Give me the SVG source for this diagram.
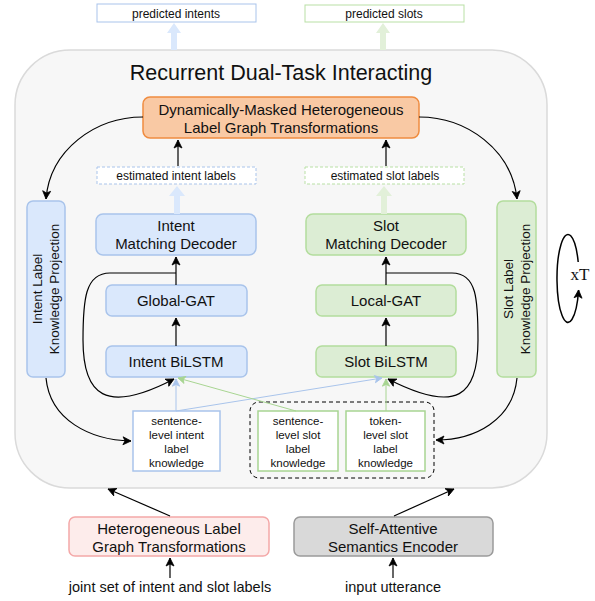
<svg xmlns="http://www.w3.org/2000/svg" width="595" height="601" viewBox="0 0 595 601">
<defs>
<marker id="ah" viewBox="0 0 10 10" refX="9" refY="5" markerWidth="10" markerHeight="10" markerUnits="userSpaceOnUse" orient="auto">
<path d="M1,1 L9,5 L1,9 L3,5 Z" fill="#000" stroke="#000" stroke-width="0.8" stroke-linejoin="round"/>
</marker>
<marker id="ahb" viewBox="0 0 10 10" refX="9" refY="5" markerWidth="9" markerHeight="9" markerUnits="userSpaceOnUse" orient="auto">
<path d="M1,1 L9,5 L1,9 L3,5 Z" fill="#a9c4eb" stroke="#a9c4eb"/>
</marker>
<marker id="ahg" viewBox="0 0 10 10" refX="9" refY="5" markerWidth="9" markerHeight="9" markerUnits="userSpaceOnUse" orient="auto">
<path d="M1,1 L9,5 L1,9 L3,5 Z" fill="#a8d592" stroke="#a8d592"/>
</marker>
<style>
text{font-family:"Liberation Sans",Arial,sans-serif;fill:#111;text-anchor:middle}
.lg{font-size:15px}
.vt{font-size:13.5px}
.sm{font-size:12px}
.kn{font-size:11.5px}
.blue{fill:#dae8fc;stroke:#a9c4eb;stroke-width:1.5}
.green{fill:#dcedd4;stroke:#b3dd9d;stroke-width:1.5}
.conn{fill:none;stroke:#000;stroke-width:1.2}
</style>
</defs>

<!-- container -->
<g id="container">
<rect x="15" y="50" width="532" height="438" rx="55" ry="55" fill="#f7f7f7" stroke="#dadada" stroke-width="1.5"/>
<text x="281" y="80" style="font-size:21.5px">Recurrent Dual-Task Interacting</text>
</g>

<!-- outputs -->
<g id="predicted-intents">
<rect x="97" y="4" width="159" height="18" fill="#fff" stroke="#a9c4eb" stroke-width="1"/>
<text class="sm" x="176" y="17.5">predicted intents</text>
</g>
<g id="predicted-slots">
<rect x="305" y="5" width="159" height="17" fill="#fff" stroke="#b9e0a5" stroke-width="1"/>
<text class="sm" x="384" y="17.5">predicted slots</text>
</g>

<g id="dyn-masked">
<rect x="143" y="97" width="276" height="41" rx="7" fill="#f9c9a4" stroke="#ef8c40" stroke-width="1.5"/>
<text class="lg" x="281" y="115">Dynamically-Masked Heterogeneous</text>
<text class="lg" x="281" y="133">Label Graph Transformations</text>
</g>

<g id="est-intent">
<rect x="97" y="167" width="159" height="17" fill="#fff" stroke="#a9c4eb" stroke-width="1" stroke-dasharray="3,2"/>
<text class="sm" x="176" y="180">estimated intent labels</text>
</g>
<g id="est-slot">
<rect x="305" y="167" width="159" height="17" fill="#fff" stroke="#b9e0a5" stroke-width="1" stroke-dasharray="3,2"/>
<text class="sm" x="385" y="180">estimated slot labels</text>
</g>

<g id="intent-decoder">
<rect class="blue" x="96" y="214" width="160" height="41" rx="7"/>
<text class="lg" x="176" y="231">Intent</text>
<text class="lg" x="176" y="249">Matching Decoder</text>
</g>
<g id="global-gat">
<rect class="blue" x="106" y="285" width="141" height="31" rx="6"/>
<text class="lg" x="176" y="306">Global-GAT</text>
</g>
<g id="intent-bilstm">
<rect class="blue" x="106" y="346" width="141" height="31" rx="6"/>
<text class="lg" x="176" y="367">Intent BiLSTM</text>
</g>
<g id="intent-kp">
<rect class="blue" x="27" y="201" width="38" height="176" rx="6"/>
<text class="vt" transform="translate(46,289) rotate(-90)" x="0" y="-4">Intent Label</text>
<text class="vt" transform="translate(46,289) rotate(-90)" x="0" y="13">Knowledge Projection</text>
</g>

<g id="slot-decoder">
<rect class="green" x="306" y="214" width="160" height="41" rx="7"/>
<text class="lg" x="386" y="231">Slot</text>
<text class="lg" x="386" y="249">Matching Decoder</text>
</g>
<g id="local-gat">
<rect class="green" x="316" y="285" width="140" height="31" rx="6"/>
<text class="lg" x="386" y="306">Local-GAT</text>
</g>
<g id="slot-bilstm">
<rect class="green" x="316" y="346" width="140" height="31" rx="6"/>
<text class="lg" x="386" y="367">Slot BiLSTM</text>
</g>
<g id="slot-kp">
<rect class="green" x="497" y="201" width="39" height="176" rx="6"/>
<text class="vt" transform="translate(517,289) rotate(-90)" x="0" y="-4">Slot Label</text>
<text class="vt" transform="translate(517,289) rotate(-90)" x="0" y="13">Knowledge Projection</text>
</g>

<g id="slot-knowledge-group">
<rect x="250" y="402" width="184" height="76" rx="9" fill="none" stroke="#000" stroke-width="1" stroke-dasharray="4,3"/>
</g>
<g id="sent-intent-know">
<rect x="133" y="411" width="87" height="60" fill="#fff" stroke="#a9c4eb" stroke-width="1.5"/>
<text class="kn" x="176.5" y="425">sentence-</text>
<text class="kn" x="176.5" y="439">level intent</text>
<text class="kn" x="176.5" y="453">label</text>
<text class="kn" x="176.5" y="467">knowledge</text>
</g>
<g id="sent-slot-know">
<rect x="258" y="411" width="80" height="60" fill="#fff" stroke="#a8d592" stroke-width="1.5"/>
<text class="kn" x="298" y="425">sentence-</text>
<text class="kn" x="298" y="439">level slot</text>
<text class="kn" x="298" y="453">label</text>
<text class="kn" x="298" y="467">knowledge</text>
</g>
<g id="token-slot-know">
<rect x="346" y="411" width="79" height="60" fill="#fff" stroke="#a8d592" stroke-width="1.5"/>
<text class="kn" x="385.5" y="425">token-</text>
<text class="kn" x="385.5" y="439">level slot</text>
<text class="kn" x="385.5" y="453">label</text>
<text class="kn" x="385.5" y="467">knowledge</text>
</g>

<g id="het-label-graph">
<rect x="69" y="517" width="200" height="39" rx="6" fill="#fdeceb" stroke="#f4a8a8" stroke-width="1.5"/>
<text class="lg" x="169" y="534">Heterogeneous Label</text>
<text class="lg" x="169" y="552">Graph Transformations</text>
</g>
<g id="encoder">
<rect x="294" y="517" width="199" height="39" rx="6" fill="#d9d9d9" stroke="#9a9a9a" stroke-width="1.5"/>
<text class="lg" x="393" y="534">Self-Attentive</text>
<text class="lg" x="393" y="552">Semantics Encoder</text>
</g>
<g id="input-labels">
<text x="170" y="592" style="font-size:14.5px">joint set of intent and slot labels</text>
</g>
<g id="input-utterance">
<text x="393" y="592" style="font-size:14.5px">input utterance</text>
</g>

<g id="loop">
<path d="M578.2,262 A11,44 0 1 0 578.6,290" fill="none" stroke="#000" stroke-width="1.5" marker-end="url(#ah)"/>
<text x="580" y="280" style="font-family:'Liberation Serif',serif;font-size:17px">xT</text>
</g>

<g id="connectors">
<!-- block arrows -->
<path d="M171,50 V33 H167 L174,23 L181,33 H177 V50 Z" fill="#dae8fc"/>
<path d="M380,50 V33 H376 L383,23 L390,33 H386 V50 Z" fill="#e2f0d9"/>
<path d="M174,214 V196 H169 L177,186 L185,196 H180 V214 Z" fill="#dae8fc"/>
<path d="M381,214 V196 H376 L384,186 L392,196 H387 V214 Z" fill="#e2f0d9"/>
<!-- black arrows -->
<path class="conn" d="M178,166 V140" marker-end="url(#ah)"/>
<path class="conn" d="M386,166 V140" marker-end="url(#ah)"/>
<path class="conn" d="M176,346 V318" marker-end="url(#ah)"/>
<path class="conn" d="M176,285 V257" marker-end="url(#ah)"/>
<path class="conn" d="M386,346 V318" marker-end="url(#ah)"/>
<path class="conn" d="M386,285 V257" marker-end="url(#ah)"/>
<path class="conn" d="M143,117 C95,117 50,150 46,199" marker-end="url(#ah)"/>
<path class="conn" d="M419,117 C467,117 512,150 517,199" marker-end="url(#ah)"/>
<path class="conn" d="M46,378 C50,420 90,440 131,441" marker-end="url(#ah)"/>
<path class="conn" d="M517,378 C513,420 475,440 436,440" marker-end="url(#ah)"/>
<path class="conn" d="M176,273 L110,273 C85,273 83,300 83,340 C83,395 105,415 174,379" marker-end="url(#ah)"/>
<path class="conn" d="M386,273 L452,273 C477,273 478,300 478,340 C478,395 458,415 388,379" marker-end="url(#ah)"/>
<path class="conn" d="M170,516 L108,489" marker-end="url(#ah)"/>
<path class="conn" d="M394,516 L454,489" marker-end="url(#ah)"/>
<path class="conn" d="M170,578 V558" marker-end="url(#ah)"/>
<path class="conn" d="M393,578 V558" marker-end="url(#ah)"/>
<!-- colored knowledge links -->
<path d="M176,411 V379" fill="none" stroke="#a9c4eb" stroke-width="1" marker-end="url(#ahb)"/>
<path d="M176,411 L382,378" fill="none" stroke="#a9c4eb" stroke-width="1" marker-end="url(#ahb)"/>
<path d="M296,411 L178,378" fill="none" stroke="#a8d592" stroke-width="1" marker-end="url(#ahg)"/>
<path d="M386,411 V379" fill="none" stroke="#a8d592" stroke-width="1" marker-end="url(#ahg)"/>
</g>
</svg>
